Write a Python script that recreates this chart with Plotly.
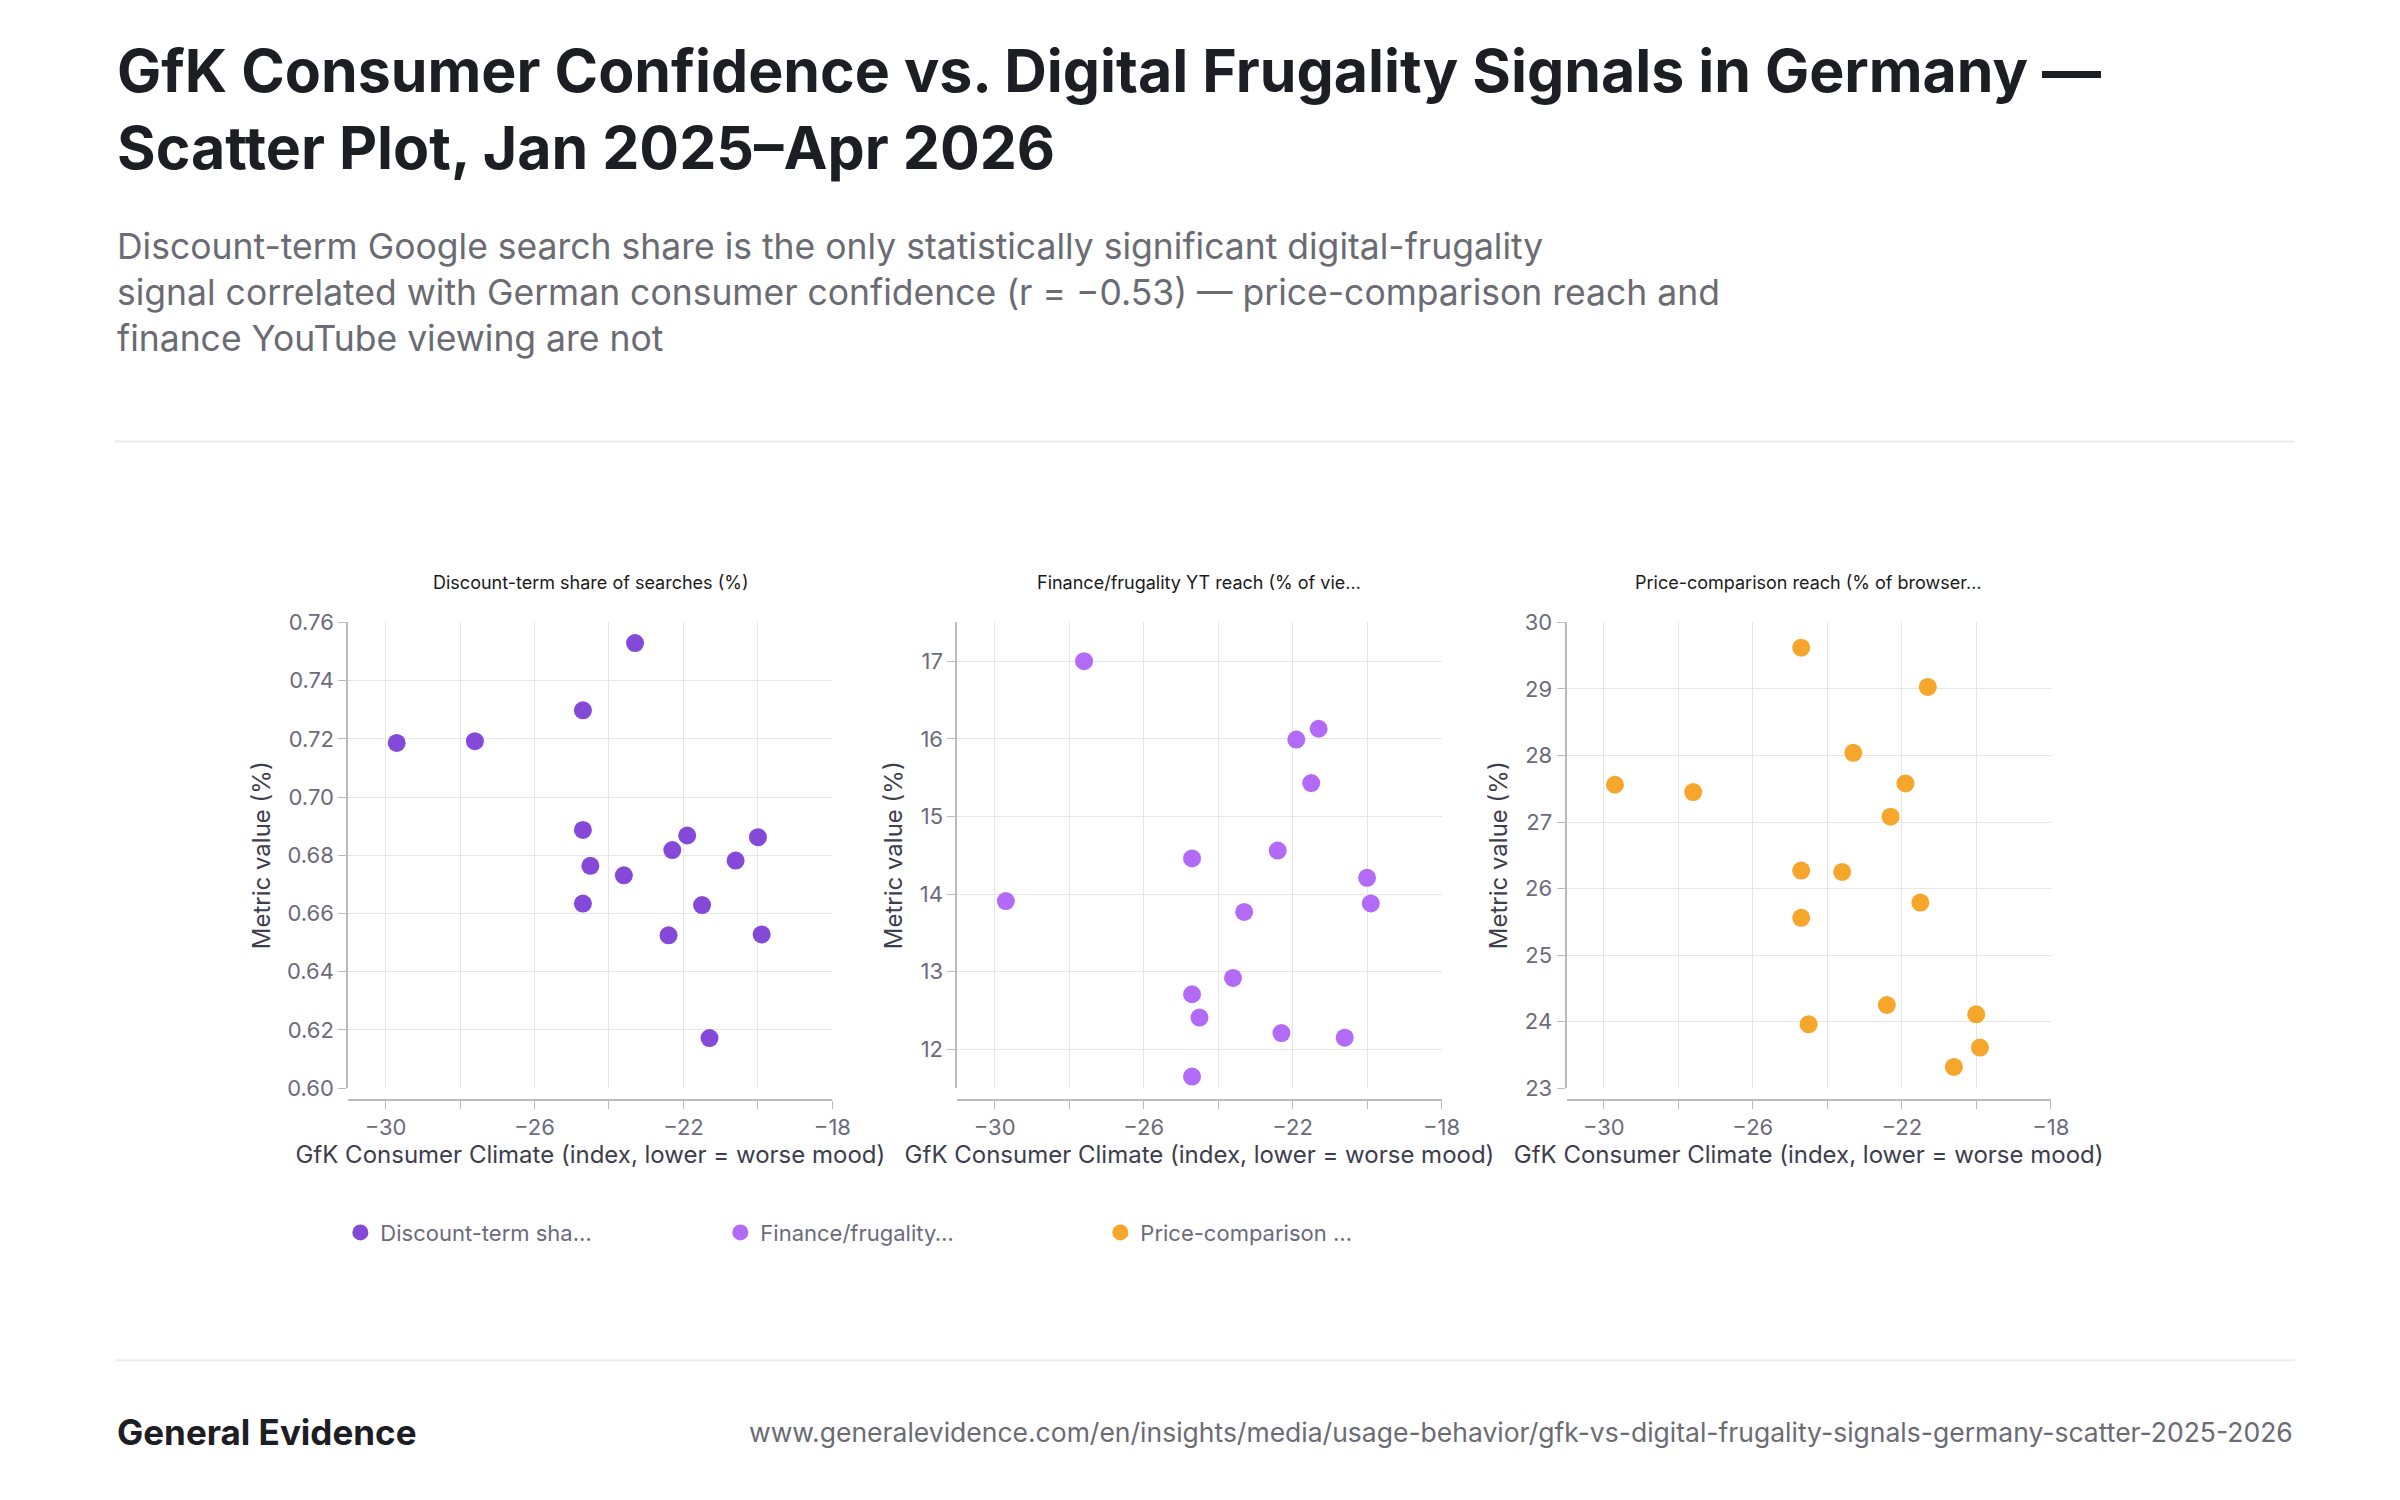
import plotly.graph_objects as go

# GfK consumer climate per month, Jan 2025 - Apr 2026 (x for every panel)
gfk = [-29.7, -27.6, -24.7, -24.7, -24.7, -24.5, -23.6, -23.3,
       -22.4, -22.3, -21.9, -21.5, -21.3, -20.6, -20.0, -19.9]

discount_share = [0.7186, 0.7192, 0.7298, 0.6887, 0.6634, 0.6764, 0.6731, 0.7529,
                  0.6525, 0.6818, 0.6868, 0.6629, 0.6172, 0.6782, 0.6862, 0.6528]
yt_reach = [13.91, 17.00, 14.46, 12.71, 11.65, 12.41, 12.92, 13.77,
            14.56, 12.21, 15.99, 15.43, 16.13, 12.15, 14.21, 13.88]
price_reach = [27.56, 27.45, 29.62, 26.27, 25.56, 23.96, 26.25, 28.04,
               24.25, 27.08, 27.58, 25.79, 29.03, 23.32, 24.11, 23.61]

panel_titles = ["Discount-term share of searches (%)",
                "Finance/frugality YT reach (% of vie…",
                "Price-comparison reach (% of browser…"]
legend_names = ["Discount-term sha…", "Finance/frugality…", "Price-comparison …"]
colors = ["#8549d9", "#b36bf7", "#f5a62b"]
y_ranges = [[0.60, 0.76], [11.5, 17.5], [23, 30]]
y_dticks = [0.02, 1, 1]
x_ticks = [-30, -28, -26, -24, -22, -20, -18]
x_labels = ["−30", "", "−26", "", "−22", "", "−18"]

W, H = 2400, 1500
FONT = "Inter, Noto Sans, sans-serif"
panel_px = [(343, 831), (957, 1445), (1571, 2059)]
top_px, bottom_px, xline_px = 612, 1086, 1098

fig = go.Figure()
series = [discount_share, yt_reach, price_reach]
for i, (ys, name, col) in enumerate(zip(series, legend_names, colors)):
    n = "" if i == 0 else str(i + 1)
    fig.add_trace(go.Scatter(
        x=gfk, y=ys, mode="markers", name=name,
        marker=dict(color=col, size=18),
        xaxis="x" + n, yaxis="y" + n,
    ))
    x0, x1 = panel_px[i]
    fig.layout["xaxis" + n] = dict(
        domain=[x0 / W, x1 / W], anchor="free", position=1 - xline_px / H,
        range=[-31, -18], tickvals=x_ticks, ticktext=x_labels,
        showgrid=True, gridcolor="#e6e6e6", zeroline=False,
        showline=True, linecolor="#bbbbbb", linewidth=2,
        ticks="outside", ticklen=8, tickcolor="#bbbbbb",
        tickfont=dict(size=22, color="#6b6b7b"),
        title=dict(text="GfK Consumer Climate (index, lower = worse mood)",
                   font=dict(size=24, color="#3d3d4d"), standoff=6),
    )
    fig.layout["yaxis" + n] = dict(
        domain=[1 - bottom_px / H, 1 - top_px / H], anchor="x" + n,
        range=y_ranges[i], dtick=y_dticks[i],
        tickformat=".2f" if i == 0 else "d",
        showgrid=True, gridcolor="#e6e6e6", zeroline=False,
        showline=True, linecolor="#bbbbbb", linewidth=2,
        ticks="outside", ticklen=8, tickcolor="#bbbbbb",
        tickfont=dict(size=22, color="#6b6b7b"),
        title=dict(text="Metric value (%)", font=dict(size=24, color="#3d3d4d"), standoff=10),
    )
    fig.add_annotation(x=(x0 + x1) / 2 / W, y=1 - 571 / H, xref="paper", yref="paper",
                       xanchor="center", yanchor="middle",
                       text=panel_titles[i], showarrow=False,
                       font=dict(size=18, color="#1a1a1a"))

fig.add_annotation(
    x=108 / W, y=1 - 12 / H, xref="paper", yref="paper", xanchor="left", yanchor="top",
    align="left", showarrow=False,
    text="<b>GfK Consumer Confidence vs. Digital Frugality Signals in Germany —<br>"
         "Scatter Plot, Jan 2025–Apr 2026</b>",
    font=dict(size=59, color="#1d1d24"),
)
fig.add_annotation(
    x=108 / W, y=1 - 206 / H, xref="paper", yref="paper", xanchor="left", yanchor="top",
    align="left", showarrow=False,
    text="Discount-term Google search share is the only statistically significant digital-frugality<br>"
         "signal correlated with German consumer confidence (r = −0.53) — price-comparison reach and<br>"
         "finance YouTube viewing are not",
    font=dict(size=35.5, color="#6b6b73"),
)
fig.add_annotation(x=108 / W, y=1 - 1436 / H, xref="paper", yref="paper",
                   xanchor="left", yanchor="middle", showarrow=False,
                   text="<b>General Evidence</b>", font=dict(size=35, color="#1d1d24"))
fig.add_annotation(
    x=2305 / W, y=1 - 1436 / H, xref="paper", yref="paper", xanchor="right", yanchor="middle",
    showarrow=False,
    text="www.generalevidence.com/en/insights/media/usage-behavior/gfk-vs-digital-frugality-signals-germany-scatter-2025-2026",
    font=dict(size=26.5, color="#6b6b73"),
)
for yp in (428, 1363):
    fig.add_shape(type="line", xref="paper", yref="paper", x0=108 / W, x1=2305 / W,
                  y0=1 - yp / H, y1=1 - yp / H, line=dict(color="#ececec", width=2))

fig.update_layout(
    width=W, height=H, margin=dict(l=0, r=0, t=0, b=0),
    paper_bgcolor="white", plot_bgcolor="white",
    font=dict(family=FONT),
    legend=dict(orientation="h", x=335 / W, y=1 - 1233 / H, yanchor="middle", xanchor="left",
                entrywidth=335, entrywidthmode="pixels",
                font=dict(size=22, color="#6b6b7b")),
)

fig.write_html("out.html")
